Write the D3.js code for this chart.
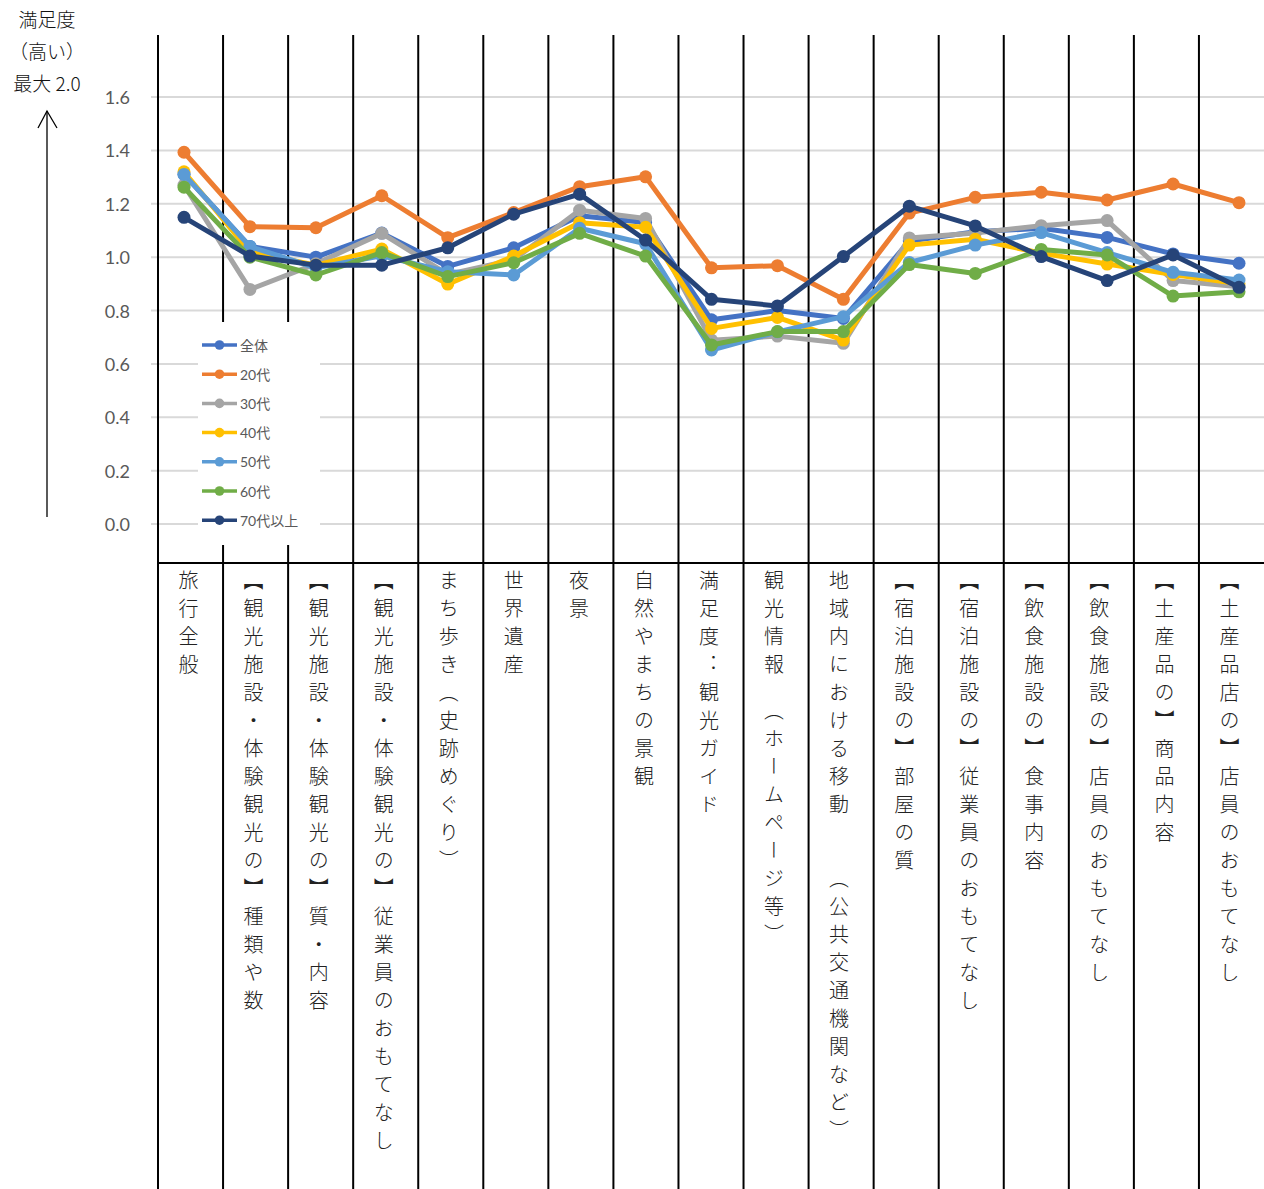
<!DOCTYPE html>
<html lang="ja">
<head>
<meta charset="utf-8">
<script src="https://cdn.jsdelivr.net/npm/d3@7"></script>
<style>
  html, body { margin: 0; padding: 0; background: #fff; }
  svg { display: block; }
</style>
</head>
<body>
<svg id="chart" width="1264" height="1189"></svg>
<script>
// ---------------- data ----------------
const categories = [
  "旅行全般",
  "【観光施設・体験観光の】種類や数",
  "【観光施設・体験観光の】質・内容",
  "【観光施設・体験観光の】従業員のおもてなし",
  "まち歩き（史跡めぐり）",
  "世界遺産",
  "夜景",
  "自然やまちの景観",
  "満足度：観光ガイド",
  "観光情報　（ホームページ等）",
  "地域内における移動　　（公共交通機関など）",
  "【宿泊施設の】部屋の質",
  "【宿泊施設の】従業員のおもてなし",
  "【飲食施設の】食事内容",
  "【飲食施設の】店員のおもてなし",
  "【土産品の】商品内容",
  "【土産品店の】店員のおもてなし"
];
const seriesNames = ["全体", "20代", "30代", "40代", "50代", "60代", "70代以上"];
const vAll = [1.31, 1.04, 1.00, 1.09, 0.965, 1.035, 1.155, 1.13, 0.765, 0.80, 0.77, 1.06, 1.095, 1.108, 1.074, 1.012, 0.977];
const v20  = [1.393, 1.114, 1.110, 1.230, 1.073, 1.167, 1.264, 1.301, 0.960, 0.968, 0.842, 1.165, 1.224, 1.243, 1.214, 1.274, 1.204];
const v30  = [1.27, 0.879, 0.975, 1.089, 0.935, 0.99, 1.176, 1.145, 0.689, 0.704, 0.677, 1.072, 1.09, 1.118, 1.137, 0.912, 0.889];
const v40  = [1.32, 1.02, 0.97, 1.03, 0.899, 1.004, 1.129, 1.112, 0.733, 0.774, 0.689, 1.045, 1.067, 1.015, 0.974, 0.935, 0.90];
const v50  = [1.31, 1.04, 0.96, 1.005, 0.945, 0.933, 1.108, 1.05, 0.652, 0.72, 0.777, 0.98, 1.045, 1.092, 1.017, 0.943, 0.914];
const v60  = [1.262, 1.00, 0.933, 1.017, 0.927, 0.979, 1.089, 1.004, 0.671, 0.721, 0.721, 0.972, 0.939, 1.029, 1.008, 0.854, 0.870];
const v70  = [1.149, 1.004, 0.970, 0.970, 1.035, 1.161, 1.236, 1.064, 0.842, 0.817, 1.002, 1.191, 1.117, 1.002, 0.912, 1.008, 0.887];
const yTickValues = [0, 0.2, 0.4, 0.6, 0.8, 1.0, 1.2, 1.4, 1.6];
const yTickLabels = ["0.0", "0.2", "0.4", "0.6", "0.8", "1.0", "1.2", "1.4", "1.6"];
const axisTitleLines = ["満足度", "（高い）", "最大 2.0"];

const seriesValues = [vAll, v20, v30, v40, v50, v60, v70];
const colors = ["#4472C4", "#ED7D31", "#A5A5A5", "#FFC000", "#5B9BD5", "#70AD47", "#264478"];

// ---------------- layout ----------------
const svg = d3.select("#chart");
const W = 1264, H = 1189;
svg.append("rect").attr("width", W).attr("height", H).attr("fill", "#fff");

const x = d3.scalePoint().domain(categories).range([184, 1239]);
const y = d3.scaleLinear().domain([0, 1.6]).range([524, 97]);
// table columns (background grid of the sheet)
const col = d3.scaleBand().domain(categories).range([158, 1264]).paddingInner(0).paddingOuter(0);

// gridlines
svg.append("g").selectAll("line").data(yTickValues).join("line")
  .attr("x1", 151).attr("x2", W)
  .attr("y1", d => y(d)).attr("y2", d => y(d))
  .attr("stroke", "#d9d9d9").attr("stroke-width", 2);

// y tick labels
svg.append("g").selectAll("text").data(yTickValues).join("text")
  .attr("x", 130).attr("y", d => y(d))
  .attr("text-anchor", "end").attr("dominant-baseline", "central")
  .attr("font-family", "Lato, 'Noto Sans', sans-serif").attr("font-size", 18)
  .attr("fill", "#595959")
  .text((d, i) => yTickLabels[i]);

// table vertical lines
const vx = categories.map(c => col(c));
svg.append("g").selectAll("line").data(vx).join("line")
  .attr("x1", d => d).attr("x2", d => d)
  .attr("y1", 35).attr("y2", H)
  .attr("stroke", "#000").attr("stroke-width", 2);
// horizontal table line
svg.append("line").attr("x1", 157).attr("x2", W).attr("y1", 563).attr("y2", 563)
  .attr("stroke", "#000").attr("stroke-width", 2);

// category labels (vertical)
const labels = svg.append("g").selectAll("text").data(categories).join("text")
  .attr("x", d => col(d) + col.bandwidth() / 2 - 2)
  .attr("y", 570)
  .attr("font-family", "'Noto Sans CJK JP', sans-serif")
  .attr("font-size", 20)
  .attr("font-weight", 300)
  .attr("fill", "#222")
  .style("writing-mode", "vertical-rl")
  .style("letter-spacing", "8px");
labels.each(function(d) {
  const t = d3.select(this);
  // keep the full-width colon upright as in the original
  const parts = d.split(/(：)/);
  parts.forEach(p => {
    if (!p) return;
    const ts = t.append("tspan").text(p);
    if (p === "：") ts.style("text-orientation", "upright").style("font-feature-settings", "'vert' 0");
  });
});

// legend box (white, covers grid)
svg.append("rect").attr("x", 198).attr("y", 322).attr("width", 122).attr("height", 223).attr("fill", "#fff");

// series
const line = d3.line().x((d, i) => x(categories[i])).y(d => y(d));
seriesValues.forEach((vals, si) => {
  const g = svg.append("g");
  g.append("path").attr("d", line(vals)).attr("fill", "none")
    .attr("stroke", colors[si]).attr("stroke-width", 5)
    .attr("stroke-linejoin", "round").attr("stroke-linecap", "round");
  g.selectAll("circle").data(vals).join("circle")
    .attr("cx", (d, i) => x(categories[i])).attr("cy", d => y(d))
    .attr("r", 6.5).attr("fill", colors[si]);
});

// legend
const leg = svg.append("g");
seriesNames.forEach((name, i) => {
  const cy = 345 + i * 29.2;
  leg.append("line").attr("x1", 202).attr("x2", 237).attr("y1", cy).attr("y2", cy)
    .attr("stroke", colors[i]).attr("stroke-width", 3.5);
  leg.append("circle").attr("cx", 219.5).attr("cy", cy).attr("r", 4.8).attr("fill", colors[i]);
  leg.append("text").attr("x", 240).attr("y", cy).attr("dominant-baseline", "central")
    .attr("font-family", "Lato, 'Noto Sans CJK JP', sans-serif").attr("font-size", 14)
    .attr("fill", "#595959").text(name);
});

// axis title at upper-left
svg.append("g").selectAll("text").data(axisTitleLines).join("text")
  .attr("x", 47).attr("y", (d, i) => 27 + i * 32)
  .attr("text-anchor", "middle")
  .attr("font-family", "'Noto Sans CJK JP', sans-serif").attr("font-size", 19)
  .attr("font-weight", 300)
  .attr("fill", "#111")
  .text(d => d);

// arrow
svg.append("line").attr("x1", 47).attr("x2", 47).attr("y1", 111).attr("y2", 517)
  .attr("stroke", "#000").attr("stroke-width", 1.3);
svg.append("path").attr("d", "M38,128 L47,111 L57,128").attr("fill", "none")
  .attr("stroke", "#000").attr("stroke-width", 1.3);
</script>
</body>
</html>
